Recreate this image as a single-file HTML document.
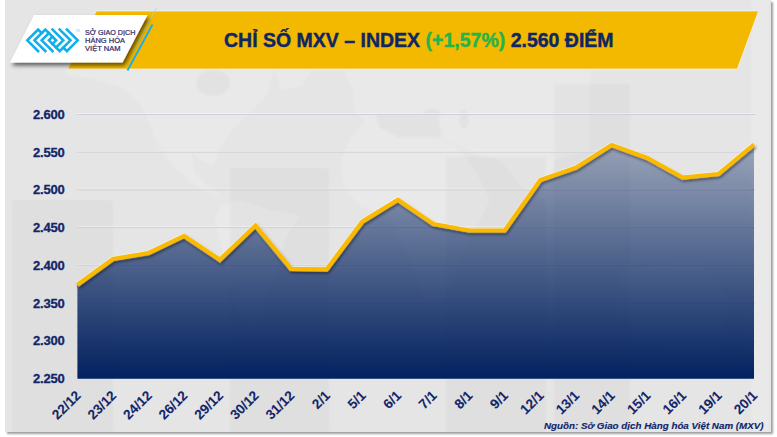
<!DOCTYPE html>
<html><head><meta charset="utf-8">
<style>
html,body{margin:0;padding:0;background:#fff;width:777px;height:437px;overflow:hidden;font-family:"Liberation Sans",sans-serif;}
#frame{position:absolute;left:5px;top:0;width:766px;height:432px;background:#e4e4e4;box-shadow:1.5px 1.5px 2px rgba(0,0,0,0.38);overflow:hidden;}
svg{position:absolute;left:0;top:0;}
</style></head><body>
<div id="frame"></div>
<svg width="777" height="437" viewBox="0 0 777 437">
  <defs>
    <filter id="sh2" x="-10%" y="-20%" width="130%" height="160%">
      <feGaussianBlur in="SourceAlpha" stdDeviation="2"/>
      <feOffset dx="2" dy="2.5"/>
      <feComponentTransfer><feFuncA type="linear" slope="0.6"/></feComponentTransfer>
      <feMerge><feMergeNode/><feMergeNode in="SourceGraphic"/></feMerge>
    </filter>
    <filter id="mb"><feGaussianBlur stdDeviation="1"/></filter>
    <clipPath id="fc"><rect x="5" y="0" width="766" height="432"/></clipPath>
    <linearGradient id="ag" x1="0" y1="114" x2="0" y2="379" gradientUnits="userSpaceOnUse">
      <stop offset="0" stop-color="#02215f" stop-opacity="0.24"/>
      <stop offset="1" stop-color="#02215f" stop-opacity="1"/>
    </linearGradient>
    <filter id="sh" x="-10%" y="-10%" width="120%" height="140%">
      <feGaussianBlur in="SourceAlpha" stdDeviation="1.5"/>
      <feOffset dx="1" dy="2"/>
      <feComponentTransfer><feFuncA type="linear" slope="0.5"/></feComponentTransfer>
      <feMerge><feMergeNode/><feMergeNode in="SourceGraphic"/></feMerge>
    </filter>
  </defs>
<!-- map -->
  <g filter="url(#mb)" clip-path="url(#fc)">
    <rect x="5" y="0" width="766" height="432" fill="#e5e5e5"/>
    <g fill="#e9e9e9">
      <path d="M62,70 L274,70 L267,95 L248,114 L232,130 L219,149 L213,165 L200,160 L191,150 L194,172 L215,192 L227,201 L195,185 L169,162 L156,140 L143,108 L124,88 L95,79 L70,76 Z"/>
      <path d="M274,70 L312,70 L302,86 L282,90 Z"/>
      <path d="M222,205 L240,200 L270,210 L300,215 L285,240 L270,290 L255,330 L240,320 L225,260 L215,220 Z"/>
      <path d="M344,70 L590,70 L590,150 L555,160 L545,200 L520,185 L500,160 L480,155 L470,150 L445,140 L400,140 L385,128 L365,121 L354,111 L354,92 Z"/>
      <path d="M366.7,120.5 L350.6,136.5 L341,162 L344,188 L360,206 L390,215 L410,260 L425,300 L445,300 L465,250 L490,200 L475,170 L455,145 L438,140 L400,140 L385,128 Z"/>
      <path d="M620,270 L700,260 L730,300 L715,350 L650,345 L615,310 Z"/>
    </g>
    <g fill="#e2e2e2">
      <ellipse cx="213" cy="83" rx="17" ry="13"/>
      <path d="M375,114 L438,114 L442,138 L400,138 L380,128 Z"/>
      <ellipse cx="432" cy="114" rx="9" ry="5"/>
      <ellipse cx="464" cy="119" rx="5" ry="10"/>
    </g>
    <g fill="#000" opacity="0.018">
      <rect x="12" y="200" width="101" height="240"/>
      <rect x="230" y="168" width="99" height="270"/>
      <rect x="446" y="157" width="100" height="280"/>
      <rect x="554" y="84" width="76" height="350"/>
    </g>
    <rect x="752" y="0" width="17" height="432" fill="#fff" opacity="0.18"/>
  </g>
  <!-- banner -->
  <polygon points="96.3,11 758.6,11 737.3,69 67.6,69" fill="#f2b900" stroke="#f4f6fb" stroke-opacity="0.7" stroke-width="1"/>
  <!-- blue lines -->
  <line x1="156.5" y1="7.5" x2="133" y2="52" stroke="#9fd4e6" stroke-width="0.7"/>
  <line x1="152.5" y1="24.5" x2="127.5" y2="70.5" stroke="#18b0ea" stroke-width="1.9"/>
  <!-- logo card -->
  <polygon points="34,15 147.5,15 122.5,62.5 10,62.5" fill="#fff" filter="url(#sh2)"/>
  <!-- icon -->
  <g fill="none" stroke="#10afec" stroke-width="2.6" stroke-linecap="square" stroke-linejoin="miter">
    <polyline points="41.7,33.1 38.1,29.5 27.3,40.3 38.1,51.1"/>
    <polyline points="52.5,43.9 56.1,40.3 45.3,29.5 34.5,40.3 45.3,51.1"/>
    <polyline points="48.9,33.1 41.7,40.3 52.5,51.1"/>
    <polyline points="52.5,36.7 48.9,40.3 59.7,51.1 70.5,40.3 59.7,29.5"/>
    <polyline points="56.1,47.5 63.3,40.3 52.5,29.5"/>
    <polyline points="63.3,47.5 66.9,51.1 77.7,40.3 66.9,29.5"/>
  </g>
  <text x="75.5" y="31.5" font-family="Liberation Sans" font-size="3" fill="#7fd0f0">TM</text>
  <!-- gridlines -->
  <g stroke="#ffffff" stroke-opacity="0.4" stroke-width="1">
    <line x1="77" y1="113.5" x2="755" y2="113.5"/>
    <line x1="77" y1="151.2" x2="755" y2="151.2"/>
    <line x1="77" y1="188.9" x2="755" y2="188.9"/>
    <line x1="77" y1="226.6" x2="755" y2="226.6"/>
    <line x1="77" y1="264.3" x2="755" y2="264.3"/>
    <line x1="77" y1="302.0" x2="755" y2="302.0"/>
    <line x1="77" y1="339.7" x2="755" y2="339.7"/>
  </g>
  <g stroke="#cfd1da" stroke-width="1">
    <line x1="77" y1="114.5" x2="755" y2="114.5"/>
    <line x1="77" y1="152.2" x2="755" y2="152.2"/>
    <line x1="77" y1="189.9" x2="755" y2="189.9"/>
    <line x1="77" y1="227.6" x2="755" y2="227.6"/>
    <line x1="77" y1="265.3" x2="755" y2="265.3"/>
    <line x1="77" y1="303" x2="755" y2="303"/>
    <line x1="77" y1="340.7" x2="755" y2="340.7"/>
  </g>
  <!-- area -->
  <polygon fill="url(#ag)" points="77.4,378.7 77.4,284.8 113,259 148.6,253 184.2,235.9 219.8,259.8 255.5,225.6 291.1,268.8 326.7,269.3 362.3,221.7 397.9,199.7 433.5,224 469.1,230.5 504.7,230.5 540.3,180.1 575.9,167.7 611.6,145 647.2,158 682.8,177.7 718.4,174 754,144.5 754,378.7"/>
  <polyline fill="none" stroke="#ffffff" stroke-opacity="0.45" stroke-width="6" points="77.4,284.8 113,259 148.6,253 184.2,235.9 219.8,259.8 255.5,225.6 291.1,268.8 326.7,269.3 362.3,221.7 397.9,199.7 433.5,224 469.1,230.5 504.7,230.5 540.3,180.1 575.9,167.7 611.6,145 647.2,158 682.8,177.7 718.4,174 754,144.5"/>
  <polyline fill="none" stroke="#fbba00" stroke-width="4.2" stroke-linejoin="miter" filter="url(#sh)" points="77.4,284.8 113,259 148.6,253 184.2,235.9 219.8,259.8 255.5,225.6 291.1,268.8 326.7,269.3 362.3,221.7 397.9,199.7 433.5,224 469.1,230.5 504.7,230.5 540.3,180.1 575.9,167.7 611.6,145 647.2,158 682.8,177.7 718.4,174 754,144.5"/>
  <!-- y labels -->
  <g font-family="Liberation Sans" font-weight="bold" font-size="13" fill="#12266a" text-anchor="end" letter-spacing="-0.2" stroke="#12266a" stroke-width="0.3">
    <text x="64.5" y="119">2.600</text>
    <text x="64.5" y="156.7">2.550</text>
    <text x="64.5" y="194.4">2.500</text>
    <text x="64.5" y="232.1">2.450</text>
    <text x="64.5" y="269.8">2.400</text>
    <text x="64.5" y="307.5">2.350</text>
    <text x="64.5" y="345.2">2.300</text>
    <text x="64.5" y="382.9">2.250</text>
  </g>
  <!-- title -->
  <text x="224" y="46.6" font-family="Liberation Sans" font-weight="bold" font-size="19.5" fill="#0f2666" stroke="#0f2666" stroke-width="0.4">CHỈ SỐ MXV – INDEX <tspan fill="#25b34b" stroke="#25b34b">(+1,57%)</tspan> 2.560 ĐIỂM</text>
  <!-- logo text -->
  <g font-family="Liberation Sans" font-size="6.9" fill="#302a66" stroke="#302a66" stroke-width="0.2">
    <text x="85" y="34.6" textLength="50.4" lengthAdjust="spacingAndGlyphs">SỞ GIAO DỊCH</text>
    <text x="85" y="43.4" textLength="40" lengthAdjust="spacingAndGlyphs">HÀNG HÓA</text>
    <text x="85" y="51.2" textLength="35.5" lengthAdjust="spacingAndGlyphs">VIỆT NAM</text>
  </g>
  <!-- x labels -->
  <g font-family="Liberation Sans" font-weight="bold" font-size="13.6" fill="#12266a" text-anchor="end" id="xl" stroke="#12266a" stroke-width="0.1">
<text transform="translate(81.6 396.3) rotate(-45)">22/12</text>
<text transform="translate(117.2 396.3) rotate(-45)">23/12</text>
<text transform="translate(152.8 396.3) rotate(-45)">24/12</text>
<text transform="translate(188.4 396.3) rotate(-45)">26/12</text>
<text transform="translate(224.0 396.3) rotate(-45)">29/12</text>
<text transform="translate(259.7 396.3) rotate(-45)">30/12</text>
<text transform="translate(295.3 396.3) rotate(-45)">31/12</text>
<text transform="translate(330.9 396.3) rotate(-45)">2/1</text>
<text transform="translate(366.5 396.3) rotate(-45)">5/1</text>
<text transform="translate(402.1 396.3) rotate(-45)">6/1</text>
<text transform="translate(437.7 396.3) rotate(-45)">7/1</text>
<text transform="translate(473.3 396.3) rotate(-45)">8/1</text>
<text transform="translate(508.9 396.3) rotate(-45)">9/1</text>
<text transform="translate(544.5 396.3) rotate(-45)">12/1</text>
<text transform="translate(580.1 396.3) rotate(-45)">13/1</text>
<text transform="translate(615.7 396.3) rotate(-45)">14/1</text>
<text transform="translate(651.4 396.3) rotate(-45)">15/1</text>
<text transform="translate(687.0 396.3) rotate(-45)">16/1</text>
<text transform="translate(722.6 396.3) rotate(-45)">19/1</text>
<text transform="translate(758.2 396.3) rotate(-45)">20/1</text>
  </g>
  <text x="763.6" y="428.7" text-anchor="end" font-family="Liberation Sans" font-weight="bold" font-style="italic" font-size="9.8" fill="#12266a" stroke="#12266a" stroke-width="0.15">Nguồn: Sở Giao dịch Hàng hóa Việt Nam (MXV)</text>
</svg>
</body></html>
